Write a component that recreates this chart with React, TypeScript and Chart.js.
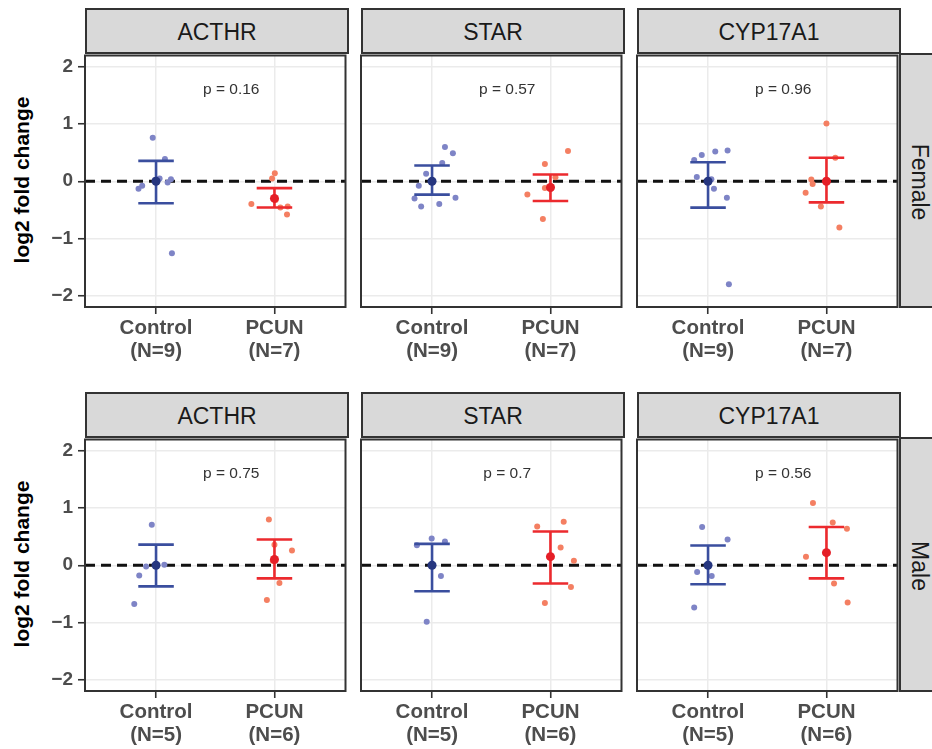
import React, { useEffect, useRef } from 'react';
import { Chart, registerables } from 'chart.js';

Chart.register(...registerables);

// ---------------- DATA ----------------
const genes = ['ACTHR', 'STAR', 'CYP17A1'];
const sexes = ['Female', 'Male'];
const groups = ['Control', 'PCUN'];
const femaleN = [9, 7];
const maleN = [5, 6];
const femalePValues = ['p = 0.16', 'p = 0.57', 'p = 0.96'];
const malePValues = ['p = 0.75', 'p = 0.7', 'p = 0.56'];
const yTickValues = [-2, -1, 0, 1, 2];
const yTickLabels = ['\u22122', '\u22121', '0', '1', '2'];
const yAxisTitle = 'log2 fold change';
const referenceLine = 0;
const pLabelPosition = [1.635, 1.6];

// Female ACTHR
const fACTHRControl = [0.76, 0.39, 0.035, -0.02, -0.08, -0.13, -1.26, 0.02, 0.05];
const fACTHRControlJitter = [-0.028, 0.075, 0.126, 0.098, -0.117, -0.148, 0.134, -0.01, 0.03];
const fACTHRPcun = [0.14, 0.05, -0.4, -0.46, -0.44, -0.58, -0.33];
const fACTHRPcunJitter = [0.003, -0.02, -0.195, 0.05, 0.112, 0.106, 0.01];
const fACTHRMean = [0.0, -0.3];
const fACTHRLower = [-0.386, -0.46];
const fACTHRUpper = [0.357, -0.12];

// Female STAR
const fSTARControl = [0.6, 0.49, 0.32, 0.13, -0.08, -0.3, -0.44, -0.4, -0.29];
const fSTARControlJitter = [0.109, 0.176, 0.086, -0.05, -0.112, -0.148, -0.092, 0.061, 0.198];
const fSTARPcun = [0.53, 0.3, 0.07, -0.12, -0.23, -0.66, -0.09];
const fSTARPcunJitter = [0.148, -0.047, 0.042, -0.047, -0.195, -0.064, 0.008];
const fSTARMean = [0.0, -0.11];
const fSTARLower = [-0.234, -0.345];
const fSTARUpper = [0.275, 0.117];

// Female CYP17A1
const fCYPControl = [0.54, 0.52, 0.46, 0.37, 0.076, 0.035, -0.13, -0.29, -1.8];
const fCYPControlJitter = [0.165, 0.061, -0.053, -0.117, -0.095, 0.028, 0.05, 0.159, 0.176];
const fCYPPcun = [1.01, 0.41, 0.03, -0.05, -0.2, -0.44, -0.81];
const fCYPPcunJitter = [0.0, 0.075, -0.128, -0.117, -0.176, -0.047, 0.109];
const fCYPMean = [0.0, 0.0];
const fCYPLower = [-0.462, -0.37];
const fCYPUpper = [0.333, 0.41];

// Male ACTHR
const mACTHRControl = [0.71, 0.01, -0.02, -0.18, -0.68];
const mACTHRControlJitter = [-0.036, 0.07, -0.084, -0.142, -0.184];
const mACTHRPcun = [0.8, 0.26, 0.36, -0.31, -0.61, 0.08];
const mACTHRPcunJitter = [-0.047, 0.148, 0.0, 0.042, -0.064, -0.014];
const mACTHRMean = [0.0, 0.1];
const mACTHRLower = [-0.37, -0.23];
const mACTHRUpper = [0.36, 0.45];

// Male STAR
const mSTARControl = [0.47, 0.415, 0.35, -0.19, -0.99];
const mSTARControlJitter = [-0.003, 0.109, -0.128, 0.075, -0.045];
const mSTARPcun = [0.76, 0.68, 0.31, 0.08, -0.38, -0.66];
const mSTARPcunJitter = [0.112, -0.112, 0.086, 0.198, 0.173, -0.047];
const mSTARMean = [0.0, 0.15];
const mSTARLower = [-0.456, -0.32];
const mSTARUpper = [0.374, 0.59];

// Male CYP17A1
const mCYPControl = [0.67, 0.45, -0.12, -0.19, -0.74];
const mCYPControlJitter = [-0.05, 0.165, -0.092, 0.031, -0.117];
const mCYPPcun = [1.09, 0.75, 0.64, 0.15, -0.32, -0.65];
const mCYPPcunJitter = [-0.114, 0.053, 0.173, -0.173, 0.064, 0.179];
const mCYPMean = [0.0, 0.22];
const mCYPLower = [-0.333, -0.23];
const mCYPUpper = [0.345, 0.67];

// ---------------- LAYOUT / STYLE ----------------
const FONT = '"Liberation Sans", Arial, Helvetica, sans-serif';
const PANEL_LEFTS = [85, 361, 637];
const PANEL_W = 263;
const ROW_TOPS = [53, 437];
const PLOT_H = 254;
const STRIP_H = 45;
const Y_AXIS_W = 60;
const X_AXIS_H = 75;
const PAD = 2;
const CAP = 0.15;
const X_MIN = 0.4;
const X_MAX = 2.6;
const Y_MIN = -2.2;
const Y_MAX = 2.2;

const CTRL_LIGHT = '#7E84C6';
const CTRL_DARK = '#3A4E9E';
const CTRL_MEAN = '#26367F';
const PCUN_LIGHT = '#F47F62';
const PCUN_DARK = '#EC2A2E';
const PCUN_MEAN = '#E51F27';
const GRID = '#EBEBEB';
const FRAME = '#333333';
const STRIP_BG = '#D9D9D9';

type PanelData = {
  gene: string;
  sex: string;
  row: number;
  col: number;
  control: number[];
  controlJitter: number[];
  pcun: number[];
  pcunJitter: number[];
  mean: number[];
  lower: number[];
  upper: number[];
  n: number[];
  p: string;
};

const panelSources = [
  [fACTHRControl, fACTHRControlJitter, fACTHRPcun, fACTHRPcunJitter, fACTHRMean, fACTHRLower, fACTHRUpper],
  [fSTARControl, fSTARControlJitter, fSTARPcun, fSTARPcunJitter, fSTARMean, fSTARLower, fSTARUpper],
  [fCYPControl, fCYPControlJitter, fCYPPcun, fCYPPcunJitter, fCYPMean, fCYPLower, fCYPUpper],
  [mACTHRControl, mACTHRControlJitter, mACTHRPcun, mACTHRPcunJitter, mACTHRMean, mACTHRLower, mACTHRUpper],
  [mSTARControl, mSTARControlJitter, mSTARPcun, mSTARPcunJitter, mSTARMean, mSTARLower, mSTARUpper],
  [mCYPControl, mCYPControlJitter, mCYPPcun, mCYPPcunJitter, mCYPMean, mCYPLower, mCYPUpper],
];

const panels: PanelData[] = panelSources.map((s, i) => {
  const row = Math.floor(i / 3);
  const col = i % 3;
  return {
    gene: genes[col],
    sex: sexes[row],
    row,
    col,
    control: s[0],
    controlJitter: s[1],
    pcun: s[2],
    pcunJitter: s[3],
    mean: s[4],
    lower: s[5],
    upper: s[6],
    n: row === 0 ? femaleN : maleN,
    p: row === 0 ? femalePValues[col] : malePValues[col],
  };
});

function errorPath(center: number, lo: number, hi: number) {
  return [
    { x: center - CAP, y: hi },
    { x: center + CAP, y: hi },
    { x: center, y: null },
    { x: center, y: hi },
    { x: center, y: lo },
    { x: center, y: null },
    { x: center - CAP, y: lo },
    { x: center + CAP, y: lo },
  ];
}

function Panel({ d }: { d: PanelData }) {
  const ref = useRef<HTMLCanvasElement>(null);
  const showY = d.col === 0;
  const width = Y_AXIS_W + PANEL_W + PAD;
  const height = PAD + PLOT_H + X_AXIS_H;

  useEffect(() => {
    const canvas = ref.current;
    if (!canvas) return;

    const framePlugin = {
      id: 'frameAndText',
      afterDatasetsDraw(chart: any) {
        const { ctx, scales } = chart;
        ctx.save();
        ctx.font = `15.5px ${FONT}`;
        ctx.fillStyle = '#333333';
        ctx.textAlign = 'center';
        ctx.textBaseline = 'middle';
        ctx.fillText(
          d.p,
          scales.x.getPixelForValue(pLabelPosition[0]),
          scales.y.getPixelForValue(pLabelPosition[1])
        );
        ctx.restore();
      },
      afterDraw(chart: any) {
        const { ctx, chartArea } = chart;
        ctx.save();
        ctx.strokeStyle = FRAME;
        ctx.lineWidth = 2;
        ctx.strokeRect(
          chartArea.left,
          chartArea.top,
          chartArea.right - chartArea.left,
          chartArea.bottom - chartArea.top
        );
        ctx.restore();
      },
    };

    const chart = new Chart(canvas, {
      type: 'scatter',
      data: {
        datasets: [
          {
            type: 'scatter',
            data: d.mean.map((m, i) => ({ x: i + 1, y: m })),
            pointRadius: 4.5,
            pointBackgroundColor: [CTRL_MEAN, PCUN_MEAN],
            pointBorderWidth: 0,
            borderWidth: 0,
            order: 0,
          } as any,
          {
            type: 'line',
            data: errorPath(1, d.lower[0], d.upper[0]),
            borderColor: CTRL_DARK,
            borderWidth: 2.6,
            pointRadius: 0,
            spanGaps: false,
            tension: 0,
            order: 1,
          } as any,
          {
            type: 'line',
            data: errorPath(2, d.lower[1], d.upper[1]),
            borderColor: PCUN_DARK,
            borderWidth: 2.6,
            pointRadius: 0,
            spanGaps: false,
            tension: 0,
            order: 1,
          } as any,
          {
            type: 'scatter',
            data: d.control.map((v, i) => ({ x: 1 + d.controlJitter[i], y: v })),
            pointRadius: 3,
            pointBackgroundColor: CTRL_LIGHT,
            pointBorderWidth: 0,
            borderWidth: 0,
            order: 2,
          } as any,
          {
            type: 'scatter',
            data: d.pcun.map((v, i) => ({ x: 2 + d.pcunJitter[i], y: v })),
            pointRadius: 3,
            pointBackgroundColor: PCUN_LIGHT,
            pointBorderWidth: 0,
            borderWidth: 0,
            order: 2,
          } as any,
          {
            type: 'line',
            data: [
              { x: X_MIN, y: referenceLine },
              { x: X_MAX, y: referenceLine },
            ],
            borderColor: '#111111',
            borderWidth: 3,
            borderDash: [10, 6],
            borderCapStyle: 'butt',
            pointRadius: 0,
            order: 3,
          } as any,
        ],
      },
      options: {
        animation: false,
        responsive: false,
        devicePixelRatio: 1,
        layout: { padding: { top: PAD, right: PAD, left: 0, bottom: 0 } },
        plugins: {
          legend: { display: false },
          tooltip: { enabled: false },
        },
        events: [],
        scales: {
          x: {
            type: 'linear',
            min: X_MIN,
            max: X_MAX,
            afterBuildTicks: (s: any) => {
              s.ticks = [1, 2].map((v) => ({ value: v }));
            },
            afterFit: (s: any) => {
              s.height = X_AXIS_H;
              s.paddingLeft = 0;
              s.paddingRight = 0;
            },
            border: { display: false },
            grid: {
              color: GRID,
              lineWidth: 1.5,
              drawTicks: true,
              tickLength: 7,
              tickColor: FRAME,
              tickWidth: 1.6,
            },
            ticks: {
              autoSkip: false,
              maxRotation: 0,
              minRotation: 0,
              padding: 3,
              color: '#4D4D4D',
              font: { family: FONT, size: 20.5, weight: 'bold', lineHeight: 1.13 },
              callback: (_v: any, idx: number) => [groups[idx], `(N=${d.n[idx]})`],
            },
          } as any,
          y: {
            type: 'linear',
            min: Y_MIN,
            max: Y_MAX,
            afterBuildTicks: (s: any) => {
              s.ticks = yTickValues.map((v) => ({ value: v }));
            },
            afterFit: (s: any) => {
              s.width = Y_AXIS_W;
              s.paddingTop = 0;
              s.paddingBottom = 0;
            },
            border: { display: false },
            grid: {
              color: GRID,
              lineWidth: 1.5,
              drawTicks: showY,
              tickLength: 7,
              tickColor: FRAME,
              tickWidth: 1.6,
            },
            ticks: {
              display: showY,
              padding: 5,
              color: '#4D4D4D',
              font: { family: FONT, size: 19, weight: 'bold' },
              callback: (_v: any, idx: number) => yTickLabels[idx],
            },
          } as any,
        },
      },
      plugins: [framePlugin],
    } as any);

    return () => chart.destroy();
  }, [d]);

  const plotLeft = PANEL_LEFTS[d.col];
  const plotTop = ROW_TOPS[d.row];

  return (
    <>
      <div
        style={{
          position: 'absolute',
          left: plotLeft,
          top: plotTop - STRIP_H,
          width: PANEL_W + 1,
          height: STRIP_H + 1,
          boxSizing: 'border-box',
          background: STRIP_BG,
          border: `2px solid ${FRAME}`,
          display: 'flex',
          alignItems: 'center',
          justifyContent: 'center',
          fontFamily: FONT,
          fontSize: 23,
          color: '#1A1A1A',
          paddingTop: 3,
        }}
      >
        {d.gene}
      </div>
      <canvas
        ref={ref}
        width={width}
        height={height}
        style={{
          position: 'absolute',
          left: plotLeft - Y_AXIS_W,
          top: plotTop - PAD,
          width,
          height,
        }}
      />
    </>
  );
}

export default function App() {
  return (
    <div
      style={{
        position: 'fixed',
        left: 0,
        top: 0,
        width: 932,
        height: 749,
        overflow: 'hidden',
        background: '#FFFFFF',
      }}
    >
      {sexes.map((sex, r) => (
        <React.Fragment key={sex}>
          <div
            style={{
              position: 'absolute',
              left: 22,
              top: ROW_TOPS[r] + PLOT_H / 2,
              transform: 'translate(-50%, -50%) rotate(-90deg)',
              whiteSpace: 'nowrap',
              fontFamily: FONT,
              fontWeight: 'bold',
              fontSize: 21,
              color: '#000000',
            }}
          >
            {yAxisTitle}
          </div>
          <div
            style={{
              position: 'absolute',
              left: PANEL_LEFTS[2] + PANEL_W - 1,
              top: ROW_TOPS[r],
              width: 60,
              height: PLOT_H + 1,
              boxSizing: 'border-box',
              background: STRIP_BG,
              border: `2px solid ${FRAME}`,
            }}
          >
            <div
              style={{
                position: 'absolute',
                left: 19,
                top: PLOT_H / 2,
                transform: 'translate(-50%, -50%) rotate(90deg)',
                whiteSpace: 'nowrap',
                fontFamily: FONT,
                fontSize: 23,
                lineHeight: '26px',
                color: '#1A1A1A',
              }}
            >
              {sex}
            </div>
          </div>
        </React.Fragment>
      ))}
      {panels.map((p) => (
        <Panel key={`${p.sex}-${p.gene}`} d={p} />
      ))}
    </div>
  );
}
